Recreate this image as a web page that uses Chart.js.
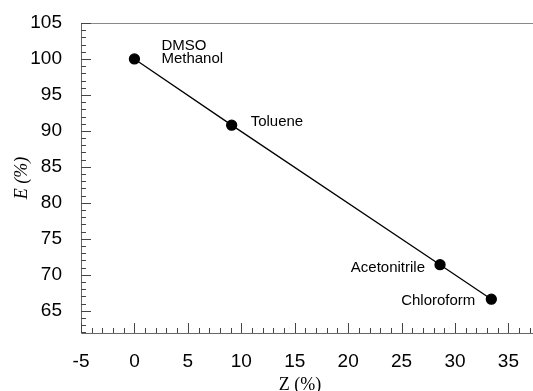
<!DOCTYPE html>
<html>
<head>
<meta charset="utf-8">
<script src="https://cdn.jsdelivr.net/npm/chart.js@4/dist/chart.umd.min.js"></script>
<style>
html,body{margin:0;padding:0;background:#fff;}
#wrap{width:533px;height:391px;position:relative;}
</style>
</head>
<body>
<div id="wrap"><canvas id="c" width="533" height="391"></canvas></div>
<script>
// Data
const solvents = ["DMSO\nMethanol", "Toluene", "Acetonitrile", "Chloroform"];
const zValues = [0, 9.1, 28.6, 33.4];
const eValues = [100, 90.8, 71.4, 66.6];
const xTicks = [-5, 0, 5, 10, 15, 20, 25, 30, 35];
const yTicks = [65, 70, 75, 80, 85, 90, 95, 100, 105];
const xTitle = "Z (%)";
const yTitle = "E (%)";

const points = zValues.map((z, i) => ({x: z, y: eValues[i]}));

// label offsets relative to point (dx, dy, align)
const labelPlacement = [
  {dx: 27, dy: -13, align: "left"},
  {dx: 19, dy: -3, align: "left"},
  {dx: -15, dy: 3, align: "right"},
  {dx: -16, dy: 2, align: "right"}
];

const axesPlugin = {
  id: "axesPlugin",
  afterDatasetsDraw(chart) {
    const ctx = chart.ctx;
    const xs = chart.scales.x, ys = chart.scales.y;
    const a = chart.chartArea;
    ctx.save();
    // frame lines
    ctx.lineWidth = 1;
    ctx.strokeStyle = "#888";
    ctx.beginPath();
    ctx.moveTo(a.left + 0.5, a.top + 0.5);
    ctx.lineTo(a.right, a.top + 0.5);
    ctx.stroke();
    ctx.strokeStyle = "#666";
    ctx.beginPath();
    ctx.moveTo(a.left + 0.5, a.top);
    ctx.lineTo(a.left + 0.5, a.bottom + 0.5);
    ctx.lineTo(a.right, a.bottom + 0.5);
    ctx.stroke();
    // ticks inward
    ctx.strokeStyle = "#444";
    for (let v = Math.ceil(xs.min); v <= xs.max; v++) {
      const px = Math.round(xs.getPixelForValue(v)) + 0.5;
      const len = (v % 5 === 0) ? 10 : 5;
      ctx.beginPath();
      ctx.moveTo(px, a.bottom);
      ctx.lineTo(px, a.bottom - len);
      ctx.stroke();
    }
    for (let v = Math.ceil(ys.min); v <= ys.max; v++) {
      const py = Math.round(ys.getPixelForValue(v)) + 0.5;
      const len = (v % 5 === 0) ? 10 : 5;
      ctx.beginPath();
      ctx.moveTo(a.left, py);
      ctx.lineTo(a.left + len, py);
      ctx.stroke();
    }
    // point labels
    ctx.fillStyle = "#000";
    ctx.font = "15px 'Liberation Sans', Arial, sans-serif";
    ctx.textBaseline = "middle";
    points.forEach((p, i) => {
      const px = xs.getPixelForValue(p.x), py = ys.getPixelForValue(p.y);
      const pl = labelPlacement[i];
      ctx.textAlign = pl.align;
      const lines = solvents[i].split("\n");
      lines.forEach((ln, k) => {
        ctx.fillText(ln, px + pl.dx, py + pl.dy + k * 13);
      });
    });
    // axis titles
    ctx.font = "18px 'Liberation Serif', 'Times New Roman', serif";
    ctx.textAlign = "center";
    ctx.textBaseline = "alphabetic";
    ctx.fillText(xTitle, 300, 390);
    ctx.save();
    ctx.translate(27, (a.top + a.bottom) / 2);
    ctx.rotate(-Math.PI / 2);
    ctx.font = "italic 18px 'Liberation Serif', 'Times New Roman', serif";
    ctx.fillText(yTitle, 0, 0);
    ctx.restore();
    ctx.restore();
  }
};

new Chart(document.getElementById("c"), {
  type: "scatter",
  data: {
    datasets: [{
      data: points,
      showLine: true,
      borderColor: "#000",
      borderWidth: 1.3,
      backgroundColor: "#000",
      pointRadius: 5,
      pointHoverRadius: 5,
      pointBackgroundColor: "#000",
      pointBorderColor: "#000",
      tension: 0
    }]
  },
  options: {
    responsive: false,
    animation: false,
    events: [],
    layout: {autoPadding: false, padding: {top: 23, right: 0, left: 0, bottom: 0}},
    plugins: {legend: {display: false}, tooltip: {enabled: false}},
    scales: {
      x: {
        type: "linear",
        min: -5,
        max: 37.3,
        grid: {display: false, drawTicks: false},
        border: {display: false},
        afterBuildTicks(scale) { scale.ticks = xTicks.map(v => ({value: v})); },
        afterFit(scale) { scale.height = 58; scale.paddingLeft = 0; scale.paddingRight = 0; },
        ticks: {
          padding: 17,
          color: "#000",
          maxRotation: 0,
          font: {family: "'Liberation Sans', Arial, sans-serif", size: 19},
          callback: v => String(v)
        }
      },
      y: {
        type: "linear",
        min: 61.9,
        max: 105,
        grid: {display: false, drawTicks: false},
        border: {display: false},
        afterBuildTicks(scale) { scale.ticks = yTicks.map(v => ({value: v})); },
        afterFit(scale) { scale.width = 81; scale.paddingTop = 0; scale.paddingBottom = 0; },
        ticks: {
          padding: 19,
          color: "#000",
          font: {family: "'Liberation Sans', Arial, sans-serif", size: 19},
          callback: v => String(v)
        }
      }
    }
  },
  plugins: [axesPlugin]
});
</script>
</body>
</html>
